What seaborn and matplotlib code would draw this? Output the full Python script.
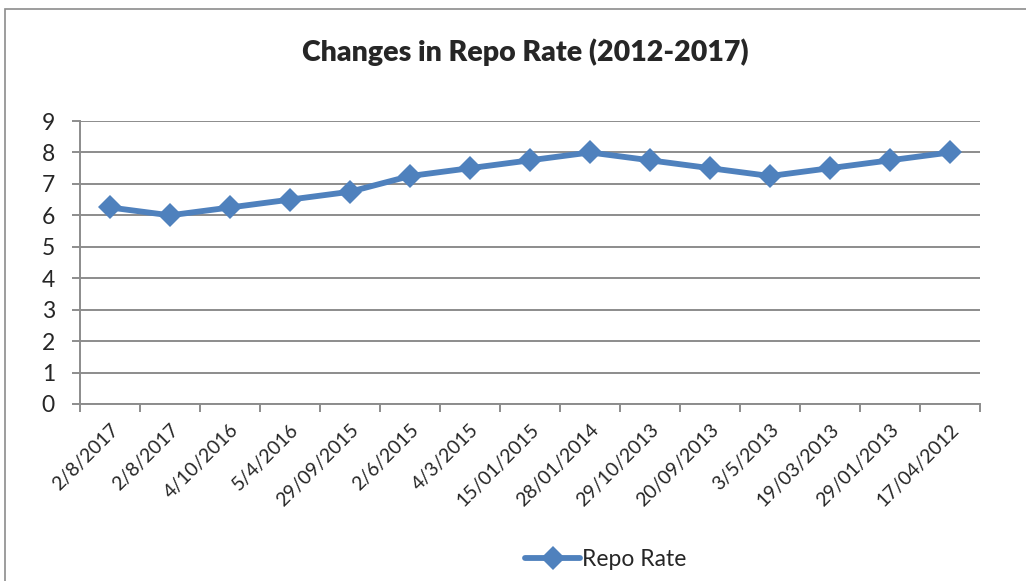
import numpy as np
import pandas as pd
import matplotlib
matplotlib.use("Agg")
import matplotlib.pyplot as plt
import seaborn as sns
from matplotlib.patches import Rectangle

dates = ["2/8/2017", "2/8/2017", "4/10/2016", "5/4/2016", "29/09/2015",
         "2/6/2015", "4/3/2015", "15/01/2015", "28/01/2014", "29/10/2013",
         "20/09/2013", "3/5/2013", "19/03/2013", "29/01/2013", "17/04/2012"]
repo_rate = [6.25, 6.0, 6.25, 6.5, 6.75, 7.25, 7.5, 7.75, 8.0, 7.75,
             7.5, 7.25, 7.5, 7.75, 8.0]

df = pd.DataFrame({"pos": np.arange(len(dates)), "rate": repo_rate})

sns.set_style("white")
plt.rcParams["font.family"] = ["Lato", "DejaVu Sans"]

fig = plt.figure(figsize=(10.26, 5.81), dpi=100)
ax = fig.add_axes([80 / 1026, 1 - 404 / 581, 900 / 1026, 283 / 581])

sns.lineplot(data=df, x="pos", y="rate", ax=ax, color="#4F81BD",
             linewidth=4.2, marker="D", markersize=12, markeredgewidth=0,
             label="Repo Rate", zorder=3)

ax.set_xlim(-0.5, len(dates) - 0.5)
ax.set_ylim(0, 9)
ax.set_yticks(range(0, 10))
ax.yaxis.grid(True, color="#8c8c8c", linewidth=1.4, zorder=0)
ax.set_xticks(np.arange(len(dates)))
ax.set_xticklabels(dates, rotation=45, ha="right", rotation_mode="anchor",
                   fontsize=14)
ax.tick_params(axis="x", which="major", length=0, pad=12)
ax.set_xticks(np.arange(-0.5, len(dates)), minor=True)
ax.tick_params(axis="x", which="minor", length=6, width=1.4,
               color="#8c8c8c", direction="out", bottom=True)
ax.tick_params(axis="y", labelsize=16.5, length=6, width=1.4,
               color="#8c8c8c", direction="out", left=True, pad=12)
ax.set_xlabel("")
ax.set_ylabel("")
for side in ["top", "right"]:
    ax.spines[side].set_visible(False)
for side in ["left", "bottom"]:
    ax.spines[side].set_color("#8c8c8c")
    ax.spines[side].set_linewidth(1.4)

fig.text(0.512, 1 - 52 / 581, "Changes in Repo Rate (2012-2017)",
         ha="center", va="center", fontsize=20.5, fontweight="heavy")

ax.legend(loc="center", bbox_to_anchor=(606 / 1026, 1 - 560 / 581),
          bbox_transform=fig.transFigure, frameon=False, fontsize=16.5,
          handlelength=2.4, handletextpad=0.1)

fig.patches.append(Rectangle((5 / 1026, -0.05), 1.1, 1 - 9 / 581 + 0.05,
                             transform=fig.transFigure, fill=False,
                             edgecolor="#8c8c8c", linewidth=1.2))

fig.savefig("out.png", dpi=100)
